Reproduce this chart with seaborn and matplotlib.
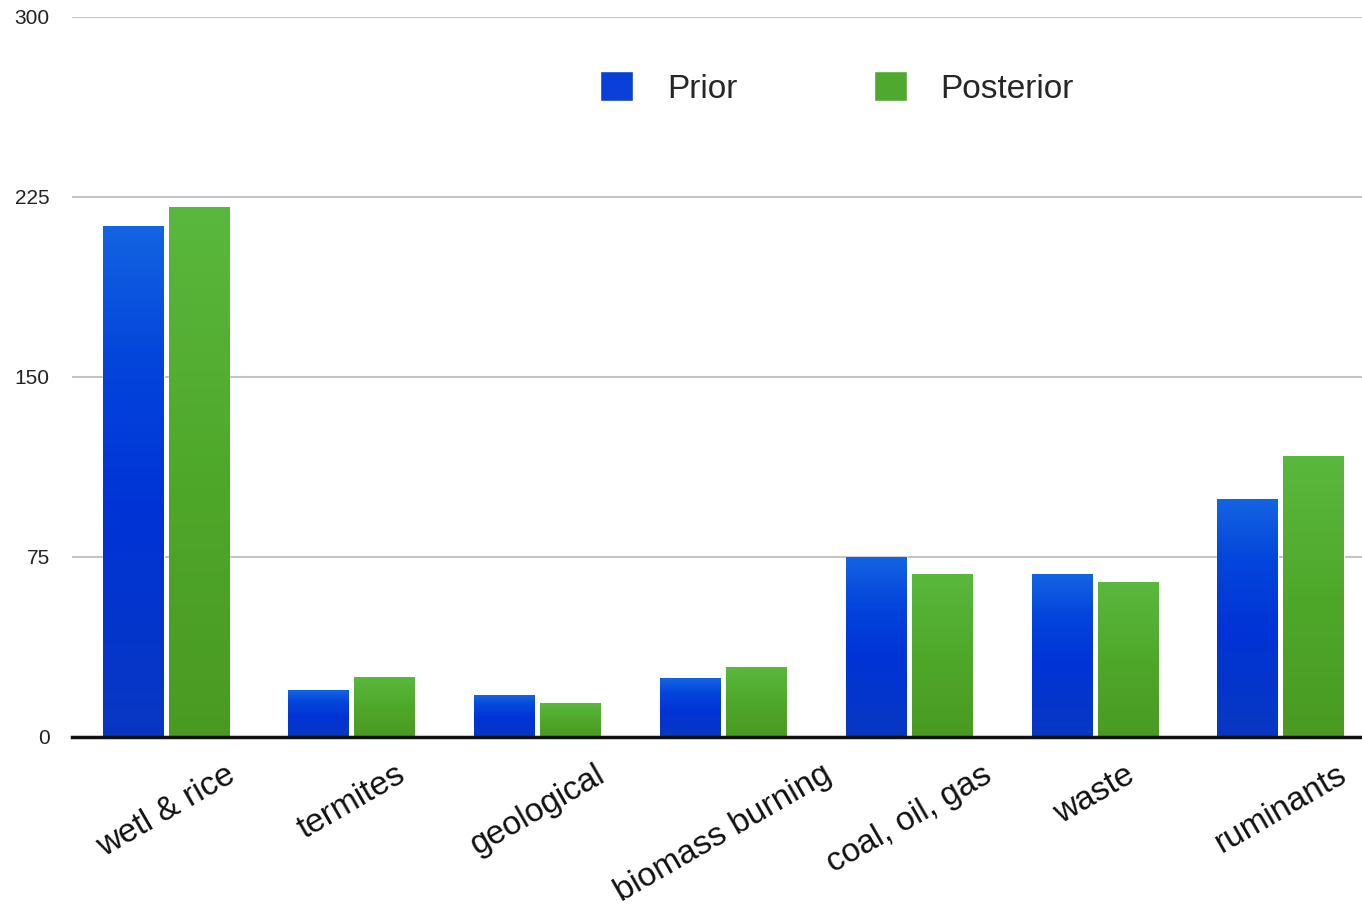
import numpy as np
import pandas as pd
import seaborn as sns
import matplotlib.pyplot as plt
from matplotlib.colors import LinearSegmentedColormap
from matplotlib.patches import Patch

# data
categories = ["wetl & rice", "termites", "geological", "biomass burning",
              "coal, oil, gas", "waste", "ruminants"]
series = ["Prior", "Posterior"]
prior = [213, 19.5, 17.5, 24.5, 75, 68, 99]
posterior = [221, 25, 14, 29, 68, 64.5, 117]
yticks = [0, 75, 150, 225, 300]

df = pd.DataFrame({
    "source": categories * 2,
    "series": [series[0]] * len(categories) + [series[1]] * len(categories),
    "value": prior + posterior,
})

sns.set_style("white")
plt.rcParams["font.family"] = ["Liberation Sans", "DejaVu Sans"]

# gradient fills (bottom -> top)
blue_cm = LinearSegmentedColormap.from_list(
    "blue", [(0, "#0838c2"), (0.45, "#0033d6"), (0.75, "#0446dc"), (1, "#1464e2")])
green_cm = LinearSegmentedColormap.from_list(
    "green", [(0, "#4a9a22"), (0.5, "#4fa82a"), (1, "#5ab83e")])

fig = plt.figure(figsize=(13.62, 9.07), dpi=100)
ax = fig.add_axes([72 / 1362, 170 / 907, 1 - 72 / 1362, 720 / 907])

sns.barplot(data=df, x="source", y="value", hue="series", hue_order=series,
            palette=["#0a3fd8", "#4fa82e"], width=0.71, gap=0.076,
            ax=ax, legend=False, saturation=1)

grad = np.linspace(0, 1, 256).reshape(-1, 1)
n = len(categories)
for i, p in enumerate(ax.patches):
    x0, y0 = p.get_x(), p.get_y()
    w, h = p.get_width(), p.get_height()
    cm = blue_cm if i < n else green_cm
    im = ax.imshow(grad, cmap=cm, origin="lower", aspect="auto",
                   extent=(x0, x0 + w, y0, y0 + h), zorder=2)
    im.set_clip_path(p)

ax.set_xlim(-0.506, 6.437)
ax.set_ylim(0, 300)
ax.set_yticks(yticks)
ax.set_xlabel("")
ax.set_ylabel("")

ax.set_axisbelow(True)
ax.yaxis.grid(True, color="#c4c4c4", lw=1.5)
for s in ["top", "right", "left"]:
    ax.spines[s].set_visible(False)
ax.spines["bottom"].set_color("#111111")
ax.spines["bottom"].set_linewidth(2.5)
ax.spines["bottom"].set_zorder(3)

ax.tick_params(axis="y", length=0, pad=16, labelsize=15, labelcolor="#222222")
ax.tick_params(axis="x", length=0, pad=16, labelsize=24, labelcolor="#111111")
plt.setp(ax.get_xticklabels(), rotation=30, ha="center", va="top")

handles = [Patch(facecolor="#0a40d8", label=series[0]),
           Patch(facecolor="#50a92f", label=series[1])]
ax.legend(handles=handles, loc="center",
          bbox_to_anchor=(837 / 1362, 1 - 88 / 907), bbox_transform=fig.transFigure,
          ncol=2, frameon=False, fontsize=24, handlelength=1.0, handleheight=1.0,
          handletextpad=1.0, columnspacing=4.1)

fig.savefig("out.png", dpi=100)
